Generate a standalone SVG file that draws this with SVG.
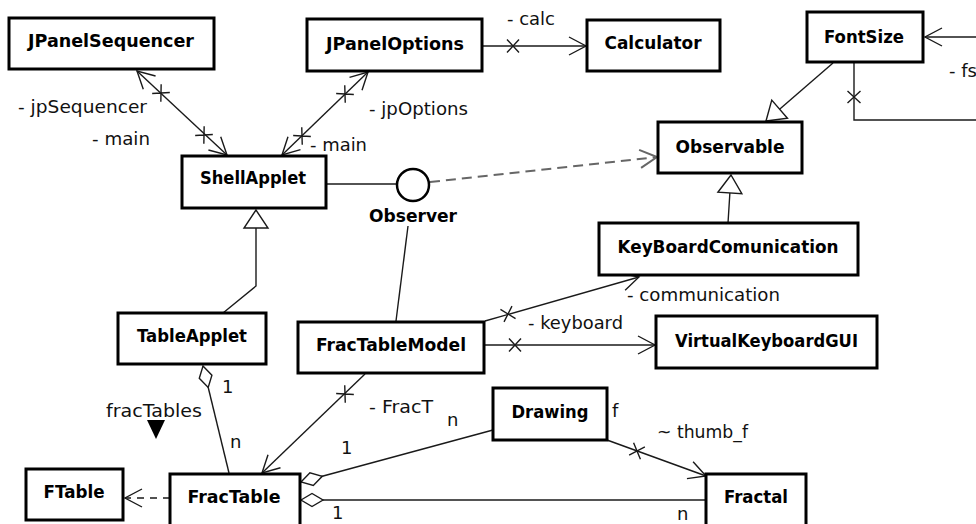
<svg xmlns="http://www.w3.org/2000/svg" xmlns:xlink="http://www.w3.org/1999/xlink" width="976" height="524" viewBox="0 0 976 524">
<style>
.box{fill:#fff;stroke:#000;stroke-width:3}
.name{font-family:"DejaVu Sans",sans-serif;font-weight:bold;font-size:17px;text-anchor:middle;fill:#000}
.lbl{font-family:"DejaVu Sans",sans-serif;font-size:18px;fill:#111}
.ln{fill:none;stroke:#1a1a1a;stroke-width:1.4}
.dash{fill:none;stroke:#666;stroke-width:2;stroke-dasharray:10 6}
.dash2{fill:none;stroke:#1a1a1a;stroke-width:1.4;stroke-dasharray:7 6}
.cx{fill:none;stroke:#1a1a1a;stroke-width:1.4}
</style>
<defs>
<marker id="open" markerUnits="userSpaceOnUse" orient="auto-start-reverse" refX="0" refY="0" markerWidth="20" markerHeight="22" overflow="visible">
<path d="M-17,-9 L0,0 L-17,9" fill="none" stroke="#1a1a1a" stroke-width="1.4"/>
</marker>
<marker id="openg" markerUnits="userSpaceOnUse" orient="auto" refX="0" refY="0" markerWidth="20" markerHeight="22" overflow="visible">
<path d="M-17,-9 L0,0 L-17,9" fill="none" stroke="#666" stroke-width="2"/>
</marker>
<marker id="gen" markerUnits="userSpaceOnUse" orient="auto" refX="0" refY="0" markerWidth="20" markerHeight="26" overflow="visible">
<path d="M0,0 L-18,-12 L-18,12 Z" fill="#fff" stroke="#1a1a1a" stroke-width="1.4"/>
</marker>
<marker id="dia" markerUnits="userSpaceOnUse" orient="auto" refX="0" refY="0" markerWidth="24" markerHeight="14" overflow="visible">
<path d="M0,0 L11,-6.5 L22,0 L11,6.5 Z" fill="#fff" stroke="#1a1a1a" stroke-width="1.4"/>
</marker>
<path id="cx" class="cx" d="M-6,-6.5 L6,6.5 M-6,6.5 L6,-6.5"/>
</defs>

<g id="connectors">
<path class="ln" d="M137,71 L227,155" marker-start="url(#open)" marker-end="url(#open)"/>
<use xlink:href="#cx" transform="translate(161,93) rotate(43.7)"/>
<use xlink:href="#cx" transform="translate(204,135) rotate(43.7)"/>
<path class="ln" d="M368,72 L282,155" marker-start="url(#open)" marker-end="url(#open)"/>
<use xlink:href="#cx" transform="translate(345,94) rotate(135.7)"/>
<use xlink:href="#cx" transform="translate(302,136) rotate(135.7)"/>
<path class="ln" d="M482,46 L586,46" marker-end="url(#open)"/>
<use xlink:href="#cx" transform="translate(513,46)"/>
<path class="ln" d="M326,184 L397,184"/>
<path class="dash" d="M430,182 L657,157" marker-end="url(#openg)"/>
<path class="ln" d="M833,63 L766,121" marker-end="url(#gen)"/>
<path class="ln" d="M728,223 L731,175" marker-end="url(#gen)"/>
<path class="ln" d="M976,37 L925,37" marker-end="url(#open)"/>
<path class="ln" d="M854,63 L854,120 L976,120"/>
<use xlink:href="#cx" transform="translate(854,97) rotate(90)"/>
<path class="ln" d="M223,313 L256,286 L256,210" marker-end="url(#gen)"/>
<path class="ln" d="M408,226 L396,321"/>
<path class="ln" d="M485,321 L639,277" marker-end="url(#open)"/>
<use xlink:href="#cx" transform="translate(508,314) rotate(-16)"/>
<path class="ln" d="M485,345 L655,345" marker-end="url(#open)"/>
<use xlink:href="#cx" transform="translate(515,345)"/>
<path class="ln" d="M365,374 L262,473" marker-end="url(#open)"/>
<use xlink:href="#cx" transform="translate(345,394) rotate(135.6)"/>
<path class="ln" d="M203,366 L229,473" marker-start="url(#dia)"/>
<path class="ln" d="M301,482 L493,430" marker-start="url(#dia)"/>
<path class="ln" d="M301,500 L706,500" marker-start="url(#dia)"/>
<path class="ln" d="M607,440 L706,476" marker-end="url(#open)"/>
<use xlink:href="#cx" transform="translate(637,451) rotate(20)"/>
<path class="dash2" d="M170,498 L125,498" marker-end="url(#open)"/>
</g>

<g id="labels">
<text class="lbl" x="18" y="112.5" textLength="129" lengthAdjust="spacingAndGlyphs">- jpSequencer</text>
<text class="lbl" x="92" y="145" textLength="58" lengthAdjust="spacingAndGlyphs">- main</text>
<text class="lbl" x="369" y="115" textLength="99" lengthAdjust="spacingAndGlyphs">- jpOptions</text>
<text class="lbl" x="310" y="151" textLength="57" lengthAdjust="spacingAndGlyphs">- main</text>
<text class="lbl" x="507" y="25" textLength="48" lengthAdjust="spacingAndGlyphs">- calc</text>
<text class="lbl" x="949" y="77">- fs</text>
<text class="lbl" x="627" y="300.5" textLength="153" lengthAdjust="spacingAndGlyphs">- communication</text>
<text class="lbl" x="528" y="329" textLength="95" lengthAdjust="spacingAndGlyphs">- keyboard</text>
<text class="lbl" x="222" y="393">1</text>
<text class="lbl" x="106" y="417" textLength="96" lengthAdjust="spacingAndGlyphs">fracTables</text>
<polygon points="147,420 165,420 156,439" fill="#000"/>
<text class="lbl" x="230" y="448">n</text>
<text class="lbl" x="369" y="412.5" textLength="64" lengthAdjust="spacingAndGlyphs">- FracT</text>
<text class="lbl" x="447" y="426">n</text>
<text class="lbl" x="341" y="454">1</text>
<text class="lbl" x="612" y="416.5">f</text>
<text class="lbl" x="657" y="438" textLength="91" lengthAdjust="spacingAndGlyphs">~ thumb_f</text>
<text class="lbl" x="332" y="519">1</text>
<text class="lbl" x="677" y="520">n</text>
</g>

<g id="JPanelSequencer"><rect class="box" x="9" y="18" width="205" height="51"/><text class="name" x="111" y="46.5" textLength="166" lengthAdjust="spacingAndGlyphs">JPanelSequencer</text></g>
<g id="JPanelOptions"><rect class="box" x="307" y="19" width="175" height="52"/><text class="name" x="395" y="50" textLength="138" lengthAdjust="spacingAndGlyphs">JPanelOptions</text></g>
<g id="Calculator"><rect class="box" x="587" y="20" width="133" height="51"/><text class="name" x="653" y="49" textLength="97" lengthAdjust="spacingAndGlyphs">Calculator</text></g>
<g id="FontSize"><rect class="box" x="807" y="12" width="116" height="50"/><text class="name" x="864" y="42.5" textLength="80" lengthAdjust="spacingAndGlyphs">FontSize</text></g>
<g id="Observable"><rect class="box" x="658" y="122" width="144" height="51"/><text class="name" x="730" y="152.5" textLength="109" lengthAdjust="spacingAndGlyphs">Observable</text></g>
<g id="ShellApplet"><rect class="box" x="182" y="156" width="144" height="52"/><text class="name" x="253" y="183.5" textLength="106" lengthAdjust="spacingAndGlyphs">ShellApplet</text></g>
<g id="Observer"><circle cx="413" cy="185" r="16" fill="#fff" stroke="#000" stroke-width="2.5"/><text class="name" x="413" y="222" textLength="88" lengthAdjust="spacingAndGlyphs">Observer</text></g>
<g id="KeyBoardComunication"><rect class="box" x="599" y="223" width="259" height="52"/><text class="name" x="728" y="252.5" textLength="221" lengthAdjust="spacingAndGlyphs">KeyBoardComunication</text></g>
<g id="TableApplet"><rect class="box" x="118" y="313" width="148" height="51"/><text class="name" x="192" y="341.5" textLength="110" lengthAdjust="spacingAndGlyphs">TableApplet</text></g>
<g id="FracTableModel"><rect class="box" x="298" y="322" width="186" height="51"/><text class="name" x="391" y="351" textLength="150" lengthAdjust="spacingAndGlyphs">FracTableModel</text></g>
<g id="VirtualKeyboardGUI"><rect class="box" x="656" y="316" width="221" height="52"/><text class="name" x="766.5" y="346.5" textLength="183" lengthAdjust="spacingAndGlyphs">VirtualKeyboardGUI</text></g>
<g id="Drawing"><rect class="box" x="493" y="388" width="114" height="52"/><text class="name" x="550" y="418" textLength="77" lengthAdjust="spacingAndGlyphs">Drawing</text></g>
<g id="Fractal"><rect class="box" x="706" y="474" width="100" height="60"/><text class="name" x="756" y="503" textLength="64" lengthAdjust="spacingAndGlyphs">Fractal</text></g>
<g id="FracTable"><rect class="box" x="170" y="474" width="130" height="60"/><text class="name" x="234" y="503" textLength="93" lengthAdjust="spacingAndGlyphs">FracTable</text></g>
<g id="FTable"><rect class="box" x="26" y="469" width="97" height="51"/><text class="name" x="74" y="498" textLength="61" lengthAdjust="spacingAndGlyphs">FTable</text></g>
</svg>
